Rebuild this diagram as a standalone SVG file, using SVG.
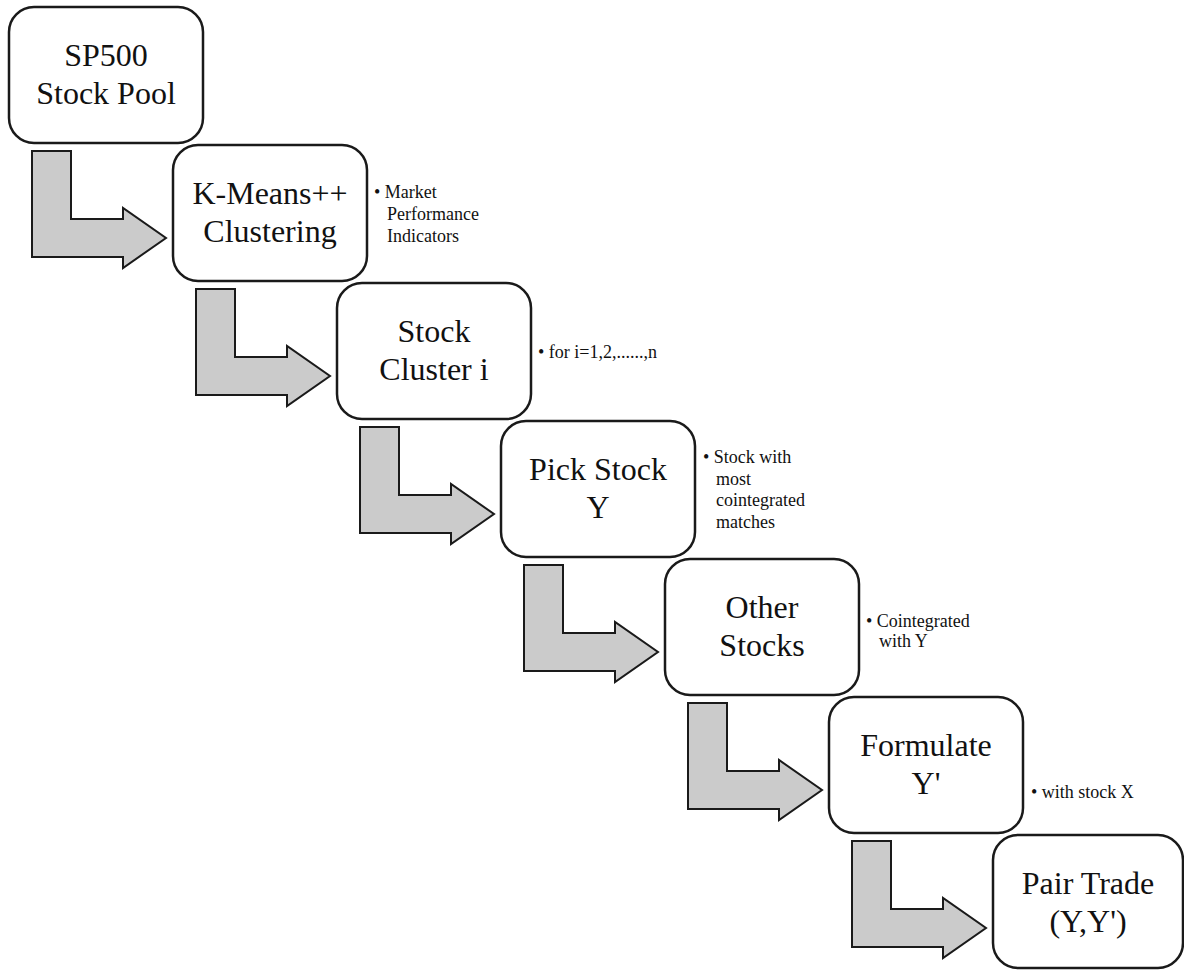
<svg xmlns="http://www.w3.org/2000/svg" width="1184" height="970" viewBox="0 0 1184 970">
<style>
.box{fill:#ffffff;stroke:#1a1a1a;stroke-width:2.5}
.arr{fill:#cbcbcb;stroke:#1a1a1a;stroke-width:2;stroke-linejoin:miter}
.t{font-family:"Liberation Serif","Times New Roman",serif;font-size:32px;fill:#111;text-anchor:middle}
.s{font-family:"Liberation Serif","Times New Roman",serif;font-size:18px;fill:#111}
</style>
<defs>
<polygon id="larrow" points="32,151 71,151 71,219 123,219 123,208 166,238 123,268 123,257 32,257"/>
</defs>
<rect width="1184" height="970" fill="#ffffff"/>
<g id="connectors">
<use href="#larrow" class="arr" transform="translate(0,0)"/>
<use href="#larrow" class="arr" transform="translate(164,138)"/>
<use href="#larrow" class="arr" transform="translate(328,276)"/>
<use href="#larrow" class="arr" transform="translate(492,414)"/>
<use href="#larrow" class="arr" transform="translate(656,552)"/>
<use href="#larrow" class="arr" transform="translate(820,690)"/>
</g>
<g id="n1">
<rect class="box" x="9" y="7" width="194" height="136" rx="25"/>
<text class="t" x="106" y="66">SP500</text>
<text class="t" x="106" y="104">Stock Pool</text>
</g>
<g id="n2">
<rect class="box" x="173" y="145" width="194" height="136" rx="25"/>
<text class="t" x="270" y="204">K-Means++</text>
<text class="t" x="270" y="242">Clustering</text>
</g>
<g id="n3">
<rect class="box" x="337" y="283" width="194" height="136" rx="25"/>
<text class="t" x="434" y="342">Stock</text>
<text class="t" x="434" y="380">Cluster i</text>
</g>
<g id="n4">
<rect class="box" x="501" y="421" width="194" height="136" rx="25"/>
<text class="t" x="598" y="480">Pick Stock</text>
<text class="t" x="598" y="518">Y</text>
</g>
<g id="n5">
<rect class="box" x="665" y="559" width="194" height="136" rx="25"/>
<text class="t" x="762" y="618">Other</text>
<text class="t" x="762" y="656">Stocks</text>
</g>
<g id="n6">
<rect class="box" x="829" y="697" width="194" height="136" rx="25"/>
<text class="t" x="926" y="756">Formulate</text>
<text class="t" x="926" y="794">Y'</text>
</g>
<g id="n7">
<rect class="box" x="993" y="835" width="190" height="133" rx="25"/>
<text class="t" x="1088" y="894">Pair Trade</text>
<text class="t" x="1088" y="932">(Y,Y')</text>
</g>
<g id="labels">
<text class="s" x="374" y="198">• Market</text>
<text class="s" x="387" y="220">Performance</text>
<text class="s" x="387" y="242">Indicators</text>
<text class="s" x="538" y="358">• for i=1,2,......,n</text>
<text class="s" x="703" y="463">• Stock with</text>
<text class="s" x="716" y="485">most</text>
<text class="s" x="716" y="506">cointegrated</text>
<text class="s" x="716" y="528">matches</text>
<text class="s" x="866" y="627">• Cointegrated</text>
<text class="s" x="879" y="647">with Y</text>
<text class="s" x="1031" y="798">• with stock X</text>
</g>
</svg>
